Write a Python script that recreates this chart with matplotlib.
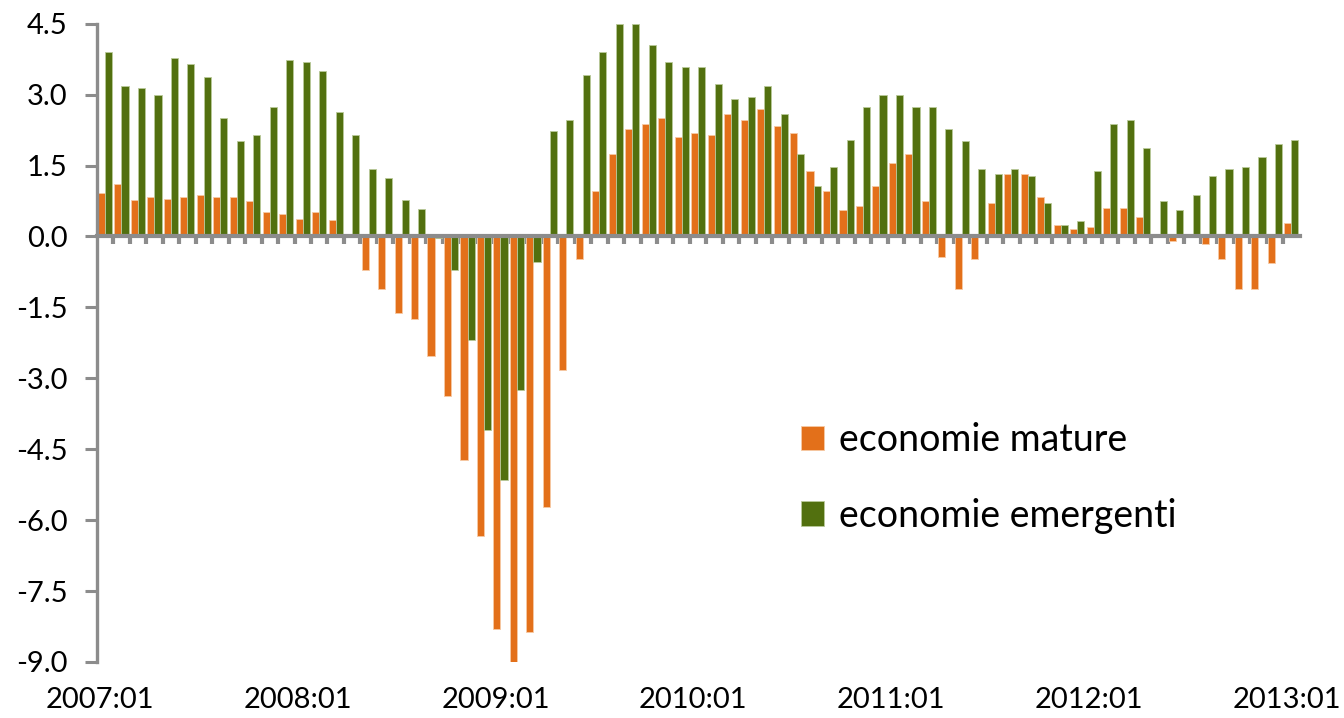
import numpy as np
import matplotlib
matplotlib.use('Agg')
import matplotlib.pyplot as plt

# monthly values, 2007:01 .. 2013:01
mature = [0.92, 1.11, 0.78, 0.83, 0.79, 0.83, 0.87, 0.83, 0.83, 0.74, 0.52, 0.47,
          0.37, 0.52, 0.34, 0.06, -0.71, -1.11, -1.61, -1.74, -2.52, -3.38, -4.73, -6.33,
          -8.31, -9.08, -8.36, -5.73, -2.83, -0.48, 0.97, 1.74, 2.28, 2.38, 2.51, 2.10,
          2.19, 2.14, 2.60, 2.46, 2.69, 2.33, 2.19, 1.38, 0.97, 0.56, 0.65, 1.06,
          1.56, 1.74, 0.74, -0.44, -1.11, -0.48, 0.70, 1.33, 1.33, 0.83, 0.24, 0.15,
          0.20, 0.61, 0.61, 0.42, 0.06, -0.10, 0.0, -0.16, -0.48, -1.11, -1.11, -0.57,
          0.28]
emerging = [3.91, 3.19, 3.14, 3.00, 3.77, 3.65, 3.37, 2.51, 2.01, 2.14, 2.74, 3.73,
            3.69, 3.50, 2.64, 2.14, 1.42, 1.23, 0.78, 0.59, -0.04, -0.71, -2.20, -4.10,
            -5.15, -3.24, -0.53, 2.24, 2.46, 3.41, 3.91, 4.5, 4.5, 4.05, 3.69, 3.59,
            3.59, 3.23, 2.91, 2.95, 3.19, 2.60, 1.74, 1.06, 1.47, 2.05, 2.74, 3.00,
            3.00, 2.74, 2.74, 2.28, 2.01, 1.42, 1.33, 1.42, 1.28, 0.70, 0.24, 0.33,
            1.38, 2.38, 2.46, 1.88, 0.74, 0.56, 0.87, 1.28, 1.42, 1.47, 1.69, 1.96,
            2.05]
year_labels = ['2007:01', '2008:01', '2009:01', '2010:01', '2011:01', '2012:01', '2013:01']
yticks = [4.5, 3.0, 1.5, 0.0, -1.5, -3.0, -4.5, -6.0, -7.5, -9.0]

orange = '#E3701A'
green = '#52700F'
grey = '#8C8C8C'

plt.rcParams['font.family'] = ['Lato', 'DejaVu Sans']

fig = plt.figure(figsize=(13.44, 7.18), dpi=100)
ax = fig.add_axes([0.072, 0.078, 0.895, 0.889])

x = np.arange(len(mature))
w = 0.43
ax.bar(x - w / 2, mature, w, color=orange, edgecolor='#F6C9A4', linewidth=0.6,
       label='economie mature', zorder=2)
ax.bar(x + w / 2, emerging, w, color=green, edgecolor='#B9C99A', linewidth=0.6,
       label='economie emergenti', zorder=2)

ax.set_xlim(-0.5, len(mature) - 0.5)
ax.set_ylim(-9.0, 4.5)

for s in ['top', 'right']:
    ax.spines[s].set_visible(False)
ax.spines['left'].set_color(grey)
ax.spines['left'].set_linewidth(2.4)
ax.spines['bottom'].set_position(('data', 0))
ax.spines['bottom'].set_color(grey)
ax.spines['bottom'].set_linewidth(3)
ax.spines['bottom'].set_zorder(3)

ax.set_yticks(yticks)
ax.set_yticklabels(['%.1f' % v for v in yticks])
ax.tick_params(axis='y', direction='out', length=9, width=2.2, color=grey,
               labelsize=21, pad=12)

# category boundary ticks on the zero line
ax.set_xticks(np.arange(0.5, len(mature) - 0.5, 1.0))
ax.set_xticklabels([])
ax.tick_params(axis='x', direction='out', length=6, width=3, color=grey)

sec = ax.secondary_xaxis('bottom')
sec.set_xticks(np.arange(0, len(mature), 12) - 0.3)
sec.set_xticklabels(year_labels)
sec.spines['bottom'].set_visible(False)
sec.tick_params(length=0, labelsize=21, pad=18)

ax.legend(loc='upper left', bbox_to_anchor=(0.57, 0.405), frameon=False,
          prop={'size': 27}, handlelength=0.62, handleheight=0.62,
          handletextpad=0.4, labelspacing=1.05, borderpad=0)

fig.savefig('out.png', dpi=100)
